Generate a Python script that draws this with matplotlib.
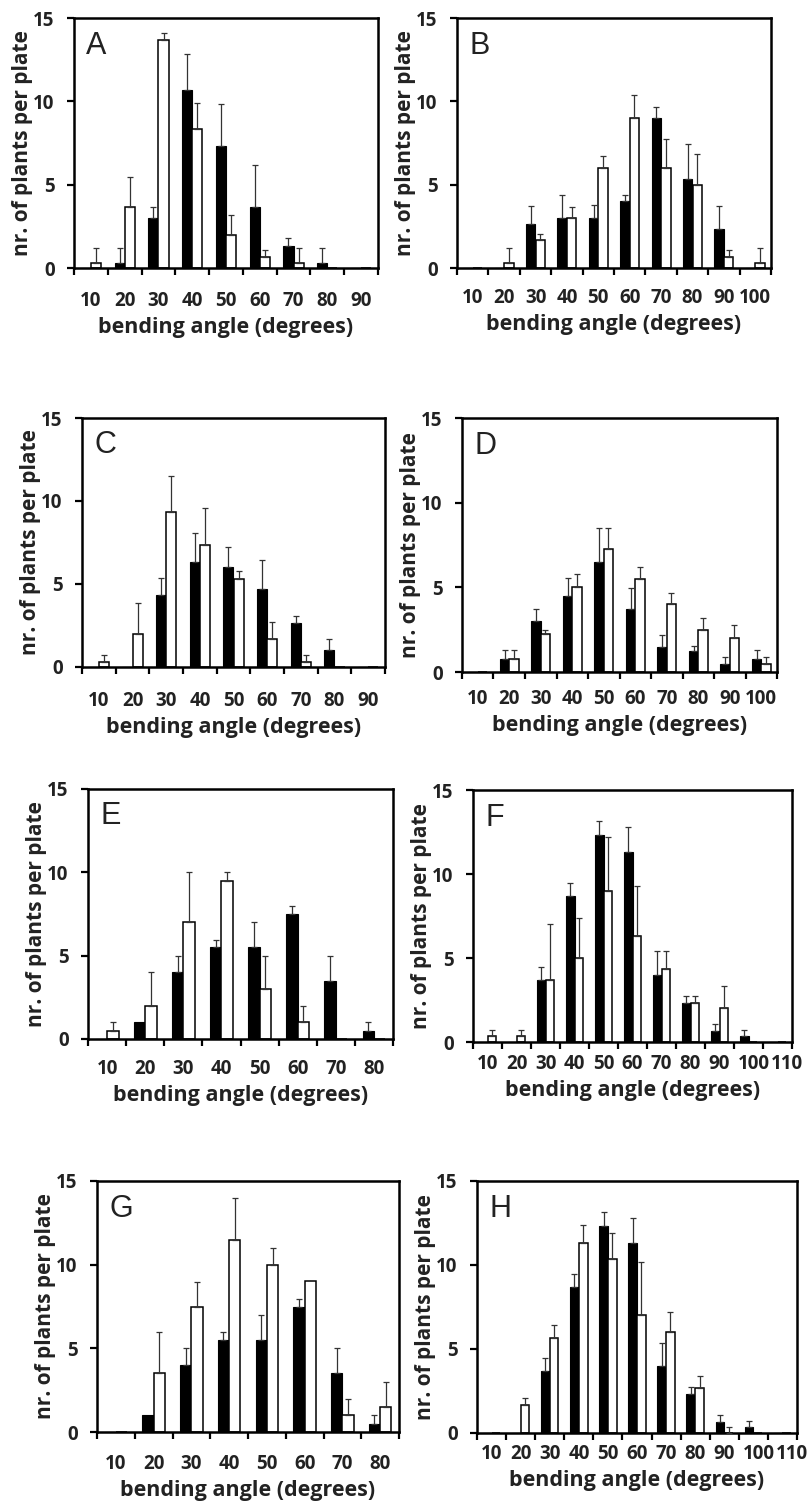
import numpy as np
import matplotlib.pyplot as plt
from matplotlib.transforms import ScaledTranslation

plt.rcParams['font.family'] = ['Open Sans', 'DejaVu Sans']

# panel A
cats_A = [10, 20, 30, 40, 50, 60, 70, 80, 90]
black_A = [0, 0.33, 3.0, 10.67, 7.33, 3.67, 1.33, 0.33, 0]
black_err_A = [0, 0.85, 0.67, 2.2, 2.5, 2.5, 0.45, 0.85, 0]
white_A = [0.33, 3.67, 13.67, 8.33, 2.0, 0.67, 0.33, 0, 0]
white_err_A = [0.85, 1.8, 0.45, 1.6, 1.2, 0.4, 0.85, 0, 0]

# panel B
cats_B = [10, 20, 30, 40, 50, 60, 70, 80, 90, 100]
black_B = [0, 0, 2.67, 3.0, 3.0, 4.0, 9.0, 5.33, 2.33, 0]
black_err_B = [0, 0, 1.05, 1.4, 0.76, 0.36, 0.66, 2.13, 1.41, 0]
white_B = [0, 0.33, 1.67, 3.0, 6.0, 9.0, 6.0, 5.0, 0.67, 0.33]
white_err_B = [0, 0.9, 0.37, 0.66, 0.7, 1.36, 1.74, 1.84, 0.4, 0.9]

# panel C
cats_C = [10, 20, 30, 40, 50, 60, 70, 80, 90]
black_C = [0, 0, 4.33, 6.33, 6.0, 4.67, 2.67, 1.0, 0]
black_err_C = [0, 0, 1.03, 1.74, 1.2, 1.79, 0.38, 0.69, 0]
white_C = [0.33, 2.0, 9.33, 7.33, 5.33, 1.67, 0.33, 0, 0]
white_err_C = [0.4, 1.86, 2.17, 2.27, 0.43, 1.04, 0.4, 0, 0]

# panel D
cats_D = [10, 20, 30, 40, 50, 60, 70, 80, 90, 100]
black_D = [0, 0.75, 3.0, 4.5, 6.5, 3.75, 1.5, 1.25, 0.5, 0.75]
black_err_D = [0, 0.53, 0.75, 1.07, 2.0, 1.23, 0.71, 0.27, 0.37, 0.53]
white_D = [0, 0.75, 2.25, 5.0, 7.25, 5.5, 4.0, 2.5, 2.0, 0.5]
white_err_D = [0, 0.53, 0.25, 0.81, 1.25, 0.7, 0.68, 0.7, 0.77, 0.37]

# panel E
cats_E = [10, 20, 30, 40, 50, 60, 70, 80]
black_E = [0, 1.0, 4.0, 5.5, 5.5, 7.5, 3.5, 0.5]
black_err_E = [0, 0, 1.0, 0.45, 1.5, 0.5, 1.5, 0.5]
white_E = [0.5, 2.0, 7.0, 9.5, 3.0, 1.0, 0, 0]
white_err_E = [0.5, 2.0, 3.0, 0.5, 2.0, 1.0, 0, 0]

# panel F
cats_F = [10, 20, 30, 40, 50, 60, 70, 80, 90, 100, 110]
black_F = [0, 0, 3.67, 8.67, 12.33, 11.33, 4.0, 2.33, 0.67, 0.33, 0]
black_err_F = [0, 0, 0.78, 0.8, 0.8, 1.44, 1.39, 0.38, 0.4, 0.36, 0]
white_F = [0.33, 0.33, 3.67, 5.0, 9.0, 6.33, 4.33, 2.33, 2.0, 0, 0]
white_err_F = [0.36, 0.36, 3.33, 2.4, 3.2, 2.96, 1.06, 0.38, 1.35, 0, 0]

# panel G
cats_G = [10, 20, 30, 40, 50, 60, 70, 80]
black_G = [0, 1.0, 4.0, 5.5, 5.5, 7.5, 3.5, 0.5]
black_err_G = [0, 0, 1.0, 0.5, 1.5, 0.46, 1.5, 0.5]
white_G = [0, 3.5, 7.5, 11.5, 10.0, 9.0, 1.0, 1.5]
white_err_G = [0, 2.45, 1.46, 2.5, 1.0, 0, 1.0, 1.5]

# panel H
cats_H = [10, 20, 30, 40, 50, 60, 70, 80, 90, 100, 110]
black_H = [0, 0, 3.67, 8.67, 12.33, 11.33, 4.0, 2.33, 0.67, 0.33, 0]
black_err_H = [0, 0, 0.78, 0.8, 0.8, 1.46, 1.38, 0.38, 0.39, 0.4, 0]
white_H = [0, 1.67, 5.67, 11.33, 10.33, 7.0, 6.0, 2.67, 0, 0, 0]
white_err_H = [0, 0.4, 0.73, 1.08, 1.6, 3.16, 1.19, 0.7, 0.35, 0, 0]

W, H = 808, 1503
# axes boxes in pixels: left, right, top, bottom
boxes = {
    'A': (74, 378, 18, 268), 'B': (457, 771, 18, 268),
    'C': (82, 385, 418, 667), 'D': (462, 777, 418, 672),
    'E': (88, 393, 789, 1039), 'F': (473, 792, 790, 1042),
    'G': (97, 399, 1181, 1432), 'H': (477, 797, 1181, 1433),
}
# distance (px) from the x axis to the centre of the tick labels
xtick_gap = {'A': 32, 'B': 29, 'C': 33, 'D': 26, 'E': 29, 'F': 21, 'G': 31, 'H': 20}

txt = '#222222'


def panel(fig, letter, cats, blk, blk_err, wht, wht_err):
    l, r, t, b = boxes[letter]
    ax = fig.add_axes([l / W, 1 - b / H, (r - l) / W, (b - t) / H])
    n = len(cats)
    x = np.arange(n)
    w = 0.3
    ax.bar(x - w / 2, blk, w, color='black', edgecolor='black', linewidth=0.8, zorder=2)
    ax.bar(x + w / 2, wht, w, color='white', edgecolor='black', linewidth=1.1, zorder=2)
    for xs, v, e in ((x - w / 2, blk, blk_err), (x + w / 2, wht, wht_err)):
        v = np.array(v)
        e = np.array(e)
        m = e > 0
        ax.errorbar(xs[m], v[m], yerr=[np.zeros(m.sum()), e[m]], fmt='none',
                    ecolor='#333333', elinewidth=0.9, capsize=2.2, capthick=0.9, zorder=3)
    ax.set_xlim(-0.5, n - 0.5)
    ax.set_ylim(0, 15)
    ax.set_yticks([0, 5, 10, 15])
    ax.set_xticks(x)
    ax.set_xticklabels([str(c) for c in cats])
    ax.set_xticks(np.arange(n + 1) - 0.5, minor=True)
    ax.tick_params(axis='x', which='major', length=0, pad=(xtick_gap[letter] - 9) * 0.72)
    ax.tick_params(axis='x', which='minor', length=5, width=1.6, direction='out')
    ax.tick_params(axis='y', length=5, width=1.6, direction='out', pad=9)
    for lab in ax.get_xticklabels() + ax.get_yticklabels():
        lab.set_fontweight('bold')
        lab.set_fontsize(13.5)
        lab.set_color(txt)
    # crowded three-digit labels sit a bit to the right, as in the original
    if n > 10:
        for lab, c in zip(ax.get_xticklabels(), cats):
            shift = {100: 5, 110: 9}.get(c, 0)
            if shift:
                lab.set_transform(lab.get_transform() + ScaledTranslation(shift / 100, 0, fig.dpi_scale_trans))
    for s in ax.spines.values():
        s.set_linewidth(1.8)
    ax.set_ylabel('nr. of plants per plate', fontsize=15, fontweight='bold', color=txt)
    ax.yaxis.set_label_coords(-41 / (r - l), 0.5)
    ax.set_xlabel('bending angle (degrees)', fontsize=15.5, fontweight='bold', color=txt, labelpad=4)
    ax.text(0.04, 0.95, letter, transform=ax.transAxes, ha='left', va='top',
            fontsize=22, family=['Liberation Sans', 'DejaVu Sans'], color=txt)
    return ax


fig = plt.figure(figsize=(W / 100, H / 100), dpi=100)
panel(fig, 'A', cats_A, black_A, black_err_A, white_A, white_err_A)
panel(fig, 'B', cats_B, black_B, black_err_B, white_B, white_err_B)
panel(fig, 'C', cats_C, black_C, black_err_C, white_C, white_err_C)
panel(fig, 'D', cats_D, black_D, black_err_D, white_D, white_err_D)
panel(fig, 'E', cats_E, black_E, black_err_E, white_E, white_err_E)
panel(fig, 'F', cats_F, black_F, black_err_F, white_F, white_err_F)
panel(fig, 'G', cats_G, black_G, black_err_G, white_G, white_err_G)
panel(fig, 'H', cats_H, black_H, black_err_H, white_H, white_err_H)
fig.savefig('out.png', dpi=100)
